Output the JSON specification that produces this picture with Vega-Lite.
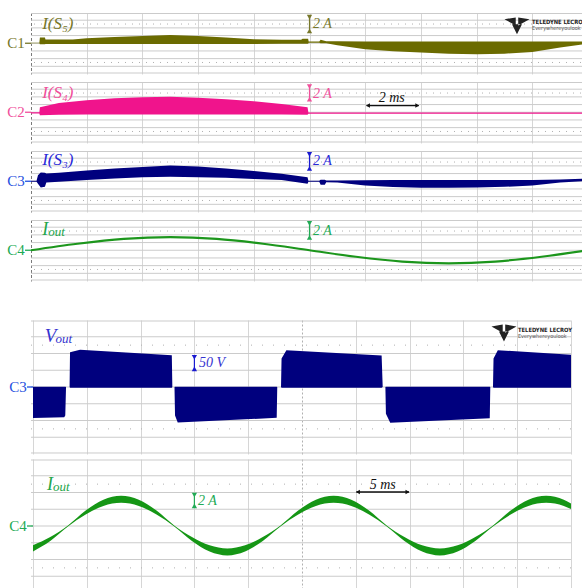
{
  "$schema": "https://vega.github.io/schema/vega-lite/v6.json",
  "background": "white",
  "padding": {"left": 0, "top": 12.5, "right": 0, "bottom": 0},
  "config": {
    "view": {"stroke": null},
    "axis": {"domain": false, "ticks": false, "labels": false, "title": null, "grid": true, "gridColor": "#d6d6d6", "gridWidth": 1},
    "axisY": {"grid": false}
  },
  "datasets": {
    "g8": [{"g": -7.74}, {"g": -6}, {"g": -4}, {"g": -2}, {"g": 0}, {"g": 2}, {"g": 4}, {"g": 6}, {"g": 7.74}],
    "g8b": [{"g": -7.88}, {"g": -6}, {"g": -4}, {"g": -2}, {"g": 0}, {"g": 2}, {"g": 4}, {"g": 6}, {"g": 7.88}],
    "g8d": [{"g": -5}, {"g": 5}],
    "g200": [{"g": -197}, {"g": -150}, {"g": -100}, {"g": -50}, {"g": 0}, {"g": 50}, {"g": 100}, {"g": 150}, {"g": 197}],
    "g200d": [{"g": -125}, {"g": 125}],
    "s5": [
      {"t": 0, "lo": 0, "hi": 0.15}, {"t": 0.3, "lo": 0, "hi": 0.15}, {"t": 0.32, "lo": -0.28, "hi": 1.5}, {"t": 0.5, "lo": -0.28, "hi": 1.5},
      {"t": 0.52, "lo": -0.22, "hi": 0.95}, {"t": 1.5, "lo": -0.22, "hi": 1.0}, {"t": 2.0, "lo": -0.22, "hi": 1.3}, {"t": 3.0, "lo": -0.22, "hi": 1.65},
      {"t": 4.0, "lo": -0.22, "hi": 1.9}, {"t": 5.0, "lo": -0.22, "hi": 2.15}, {"t": 6.0, "lo": -0.22, "hi": 1.9}, {"t": 7.0, "lo": -0.22, "hi": 1.5},
      {"t": 8.0, "lo": -0.22, "hi": 1.05}, {"t": 9.0, "lo": -0.16, "hi": 0.88}, {"t": 9.7, "lo": -0.1, "hi": 0.93}, {"t": 9.75, "lo": -0.1, "hi": 1.2},
      {"t": 9.95, "lo": -0.1, "hi": 1.2}, {"t": 9.97, "lo": 0.15, "hi": 0.45}, {"t": 10.35, "lo": 0.15, "hi": 0.45}, {"t": 10.4, "lo": 0, "hi": 0.88},
      {"t": 10.6, "lo": 0, "hi": 0.55}, {"t": 11.0, "lo": -0.55, "hi": 0.5}, {"t": 12.0, "lo": -1.55, "hi": 0.45}, {"t": 13.0, "lo": -2.1, "hi": 0.45},
      {"t": 14.0, "lo": -2.4, "hi": 0.45}, {"t": 15.0, "lo": -2.75, "hi": 0.45}, {"t": 16.0, "lo": -2.85, "hi": 0.45}, {"t": 17.0, "lo": -2.7, "hi": 0.45},
      {"t": 18.0, "lo": -2.25, "hi": 0.45}, {"t": 19.0, "lo": -1.1, "hi": 0.45}, {"t": 19.8, "lo": -0.28, "hi": 0.45}, {"t": 20, "lo": 0, "hi": 0.45}
    ],
    "s4": [
      {"t": 0, "lo": -0.33, "hi": 0}, {"t": 0.3, "lo": -0.33, "hi": 0}, {"t": 0.32, "lo": -0.77, "hi": 1.3}, {"t": 1.0, "lo": -0.66, "hi": 2.4},
      {"t": 2.0, "lo": -0.6, "hi": 3.15}, {"t": 3.0, "lo": -0.6, "hi": 3.65}, {"t": 4.0, "lo": -0.6, "hi": 3.9}, {"t": 5.0, "lo": -0.6, "hi": 4.05},
      {"t": 6.0, "lo": -0.6, "hi": 3.8}, {"t": 7.0, "lo": -0.6, "hi": 3.35}, {"t": 8.0, "lo": -0.6, "hi": 2.85}, {"t": 9.0, "lo": -0.6, "hi": 2.15},
      {"t": 9.93, "lo": -0.66, "hi": 1.3}, {"t": 9.96, "lo": -0.38, "hi": -0.05}, {"t": 20, "lo": -0.38, "hi": -0.05}
    ],
    "s3": [
      {"t": 0, "lo": -0.15, "hi": 0.15}, {"t": 0.2, "lo": -0.15, "hi": 0.15}, {"t": 0.25, "lo": -0.66, "hi": 1.55}, {"t": 0.35, "lo": -1.6, "hi": 2.3},
      {"t": 0.5, "lo": -1.45, "hi": 2.2}, {"t": 0.55, "lo": -0.33, "hi": 2.0}, {"t": 1.0, "lo": -0.1, "hi": 2.2}, {"t": 2.0, "lo": 0.33, "hi": 2.8},
      {"t": 3.0, "lo": 0.7, "hi": 3.3}, {"t": 4.0, "lo": 1.05, "hi": 3.7}, {"t": 5.0, "lo": 1.2, "hi": 4.1}, {"t": 6.0, "lo": 1.05, "hi": 3.85},
      {"t": 7.0, "lo": 0.88, "hi": 3.3}, {"t": 8.0, "lo": 0.6, "hi": 2.65}, {"t": 9.0, "lo": 0.33, "hi": 1.95}, {"t": 9.93, "lo": -0.66, "hi": 1.05},
      {"t": 9.96, "lo": -0.1, "hi": 0.15}, {"t": 10.35, "lo": -0.1, "hi": 0.15}, {"t": 10.4, "lo": -0.93, "hi": 0.38}, {"t": 10.55, "lo": -0.93, "hi": 0.38},
      {"t": 10.6, "lo": -0.28, "hi": 0.22}, {"t": 11.0, "lo": -0.33, "hi": 0.22}, {"t": 12.0, "lo": -1.1, "hi": 0.28}, {"t": 13.0, "lo": -1.5, "hi": 0.33},
      {"t": 14.0, "lo": -1.7, "hi": 0.33}, {"t": 15.0, "lo": -1.7, "hi": 0.33}, {"t": 16.0, "lo": -1.6, "hi": 0.33}, {"t": 17.0, "lo": -1.45, "hi": 0.33},
      {"t": 18.0, "lo": -1.1, "hi": 0.33}, {"t": 19.0, "lo": -0.33, "hi": 0.45}, {"t": 19.8, "lo": 0, "hi": 0.66}, {"t": 20, "lo": 0, "hi": 0.66}
    ],
    "iout": [
      {"t": 0, "i": 0}, {"t": 1.667, "i": 1.69}, {"t": 3.333, "i": 2.94}, {"t": 5, "i": 3.39}, {"t": 6.667, "i": 2.94}, {"t": 8.333, "i": 1.69},
      {"t": 10, "i": 0}, {"t": 11.667, "i": -1.69}, {"t": 13.333, "i": -2.94}, {"t": 15, "i": -3.39}, {"t": 16.667, "i": -2.94}, {"t": 18.333, "i": -1.69}, {"t": 20, "i": 0}
    ],
    "vout": [
      {"t": 0, "lo": -92.5, "hi": 1}, {"t": 2.9, "lo": -90, "hi": 1}, {"t": 3.0, "lo": -85, "hi": 1}, {"t": 3.07, "lo": 0, "hi": 0},
      {"t": 3.4, "lo": 0, "hi": 0}, {"t": 3.44, "lo": -2, "hi": 104}, {"t": 4.37, "lo": -2, "hi": 111}, {"t": 12.9, "lo": -2, "hi": 95},
      {"t": 12.95, "lo": 0, "hi": 0}, {"t": 13.15, "lo": 0, "hi": 0}, {"t": 13.2, "lo": -85, "hi": 1}, {"t": 13.45, "lo": -106, "hi": 1},
      {"t": 22.65, "lo": -92, "hi": 1}, {"t": 22.7, "lo": 0, "hi": 0}, {"t": 23.05, "lo": 0, "hi": 0}, {"t": 23.1, "lo": -2, "hi": 85},
      {"t": 23.55, "lo": -2, "hi": 110}, {"t": 32.4, "lo": -2, "hi": 94}, {"t": 32.5, "lo": 0, "hi": 0}, {"t": 32.75, "lo": 0, "hi": 0},
      {"t": 32.8, "lo": -80, "hi": 1}, {"t": 33.2, "lo": -107, "hi": 1}, {"t": 42.45, "lo": -93, "hi": 1}, {"t": 42.5, "lo": 0, "hi": 0},
      {"t": 42.75, "lo": 0, "hi": 0}, {"t": 42.8, "lo": -2, "hi": 85}, {"t": 43.2, "lo": -2, "hi": 110}, {"t": 50, "lo": -2, "hi": 96}
    ],
    "iout2": [
      {"t": 0, "lo": -3.03, "hi": -2.29}, {"t": 1.604, "lo": -1.79, "hi": -1.31}, {"t": 3.25, "lo": -0.06, "hi": 0.06}, {"t": 4.896, "lo": 1.36, "hi": 1.84},
      {"t": 6.542, "lo": 2.4, "hi": 3.14}, {"t": 8.1875, "lo": 2.78, "hi": 3.62}, {"t": 9.833, "lo": 2.4, "hi": 3.14}, {"t": 11.479, "lo": 1.36, "hi": 1.84},
      {"t": 13.125, "lo": -0.06, "hi": 0.06}, {"t": 14.771, "lo": -1.79, "hi": -1.31}, {"t": 16.417, "lo": -3.05, "hi": -2.31}, {"t": 18.0625, "lo": -3.52, "hi": -2.68},
      {"t": 19.708, "lo": -3.05, "hi": -2.31}, {"t": 21.354, "lo": -1.79, "hi": -1.31}, {"t": 23.0, "lo": -0.06, "hi": 0.06}, {"t": 24.646, "lo": 1.36, "hi": 1.84},
      {"t": 26.292, "lo": 2.4, "hi": 3.14}, {"t": 27.9375, "lo": 2.78, "hi": 3.62}, {"t": 29.583, "lo": 2.4, "hi": 3.14}, {"t": 31.229, "lo": 1.36, "hi": 1.84},
      {"t": 32.875, "lo": -0.06, "hi": 0.06}, {"t": 34.521, "lo": -1.79, "hi": -1.31}, {"t": 36.167, "lo": -3.05, "hi": -2.31}, {"t": 37.8125, "lo": -3.52, "hi": -2.68},
      {"t": 39.458, "lo": -3.05, "hi": -2.31}, {"t": 41.104, "lo": -1.79, "hi": -1.31}, {"t": 42.75, "lo": -0.06, "hi": 0.06}, {"t": 44.396, "lo": 1.36, "hi": 1.84},
      {"t": 46.042, "lo": 2.4, "hi": 3.14}, {"t": 47.6875, "lo": 2.78, "hi": 3.62}, {"t": 49.333, "lo": 2.4, "hi": 3.14}, {"t": 50, "lo": 2.04, "hi": 2.7}
    ]
  },
  "spacing": 38.5,
  "vconcat": [
    {
      "spacing": 7,
      "vconcat": [
        {
          "width": 557, "height": 61.5,
          "layer": [
            {"data": {"name": "g8"}, "mark": {"type": "rule", "color": "#cbcbcb", "strokeWidth": 1}, "encoding": {"y": {"field": "g", "type": "quantitative", "axis": null}}},
            {"data": {"name": "g8d"}, "mark": {"type": "rule", "color": "#b0b0b0", "strokeWidth": 1, "strokeDash": [1, 6]}, "encoding": {"y": {"field": "g", "type": "quantitative", "axis": null}}},
            {"data": {"name": "s5"}, "mark": {"type": "area", "color": "#6b6b00"},
             "encoding": {
               "x": {"field": "t", "type": "quantitative", "scale": {"domain": [0, 20], "nice": false, "zero": false},
                     "axis": {"values": [0, 2, 4, 6, 8, 10, 12, 14, 16, 18, 20],
                              "gridColor": {"condition": {"test": "datum.value === 0", "value": "#7a7a7a"}, "value": "#d6d6d6"},
                              "gridDash": {"condition": {"test": "datum.value === 0", "value": [3, 2]}, "value": []}}},
               "y": {"field": "hi", "type": "quantitative", "scale": {"domain": [-8, 8], "nice": false, "zero": false}, "axis": null},
               "y2": {"field": "lo"}}},
            {"data": {"values": [{}]}, "mark": {"type": "rule", "color": "white", "strokeWidth": 1},
             "encoding": {"x": {"datum": -1.077}, "x2": {"datum": -1.0}, "y": {"datum": 0}}},
            {"data": {"values": [{}]}, "mark": {"type": "rule", "color": "#77772a", "strokeWidth": 1.3},
             "encoding": {"x": {"datum": -0.215}, "x2": {"datum": 0}, "y": {"datum": 0}}},
            {"data": {"values": [{}]}, "mark": {"type": "text", "text": "C1", "font": "Liberation Serif", "fontSize": 15, "color": "#77772a", "align": "right", "baseline": "middle"},
             "encoding": {"x": {"datum": -0.225}, "y": {"datum": 0}}},
            {"data": {"values": [{}]}, "mark": {"type": "text", "text": "I(S₅)", "font": "Liberation Serif", "fontStyle": "italic", "fontSize": 17, "color": "#77772a", "align": "left", "baseline": "alphabetic"},
             "encoding": {"x": {"datum": 0.4}, "y": {"datum": 3.65}}},
            {"data": {"values": [{}]}, "mark": {"type": "rule", "color": "#77772a", "strokeWidth": 1.2},
             "encoding": {"x": {"datum": 10}, "y": {"datum": 7.1}, "y2": {"datum": 2.9}}},
            {"data": {"values": [{}]}, "mark": {"type": "point", "shape": "triangle-down", "filled": true, "size": 28, "color": "#77772a", "opacity": 1},
             "encoding": {"x": {"datum": 10}, "y": {"datum": 6.8}}},
            {"data": {"values": [{}]}, "mark": {"type": "point", "shape": "triangle-up", "filled": true, "size": 28, "color": "#77772a", "opacity": 1},
             "encoding": {"x": {"datum": 10}, "y": {"datum": 3.2}}},
            {"data": {"values": [{}]}, "mark": {"type": "text", "text": "2 A", "font": "Liberation Serif", "fontStyle": "italic", "fontSize": 14, "color": "#77772a", "align": "left", "baseline": "middle"},
             "encoding": {"x": {"datum": 10.13}, "y": {"datum": 5.0}}},
            {"data": {"values": [{}]}, "mark": {"type": "point", "shape": "M-1,-0.45L-0.1,-0.6L-0.1,0.05Z M1,-0.45L0.1,-0.6L0.1,0.05Z M-0.4,-0.05L0.4,-0.05L0,0.75Z", "filled": true, "size": 625, "color": "#222222", "opacity": 1},
             "encoding": {"x": {"datum": 17.45}, "y": {"datum": 4.77}}},
            {"data": {"values": [{}]}, "mark": {"type": "text", "text": "TELEDYNE LECROY", "font": "DejaVu Sans Condensed", "fontWeight": "bold", "fontSize": 5.8, "color": "#222222", "align": "left", "baseline": "middle"},
             "encoding": {"x": {"datum": 17.99}, "y": {"datum": 5.55}}},
            {"data": {"values": [{}]}, "mark": {"type": "text", "text": "Everywhereyoulook", "font": "DejaVu Sans Condensed", "fontSize": 5.5, "color": "#555555", "align": "left", "baseline": "middle"},
             "encoding": {"x": {"datum": 17.99}, "y": {"datum": 3.85}}}
          ]
        },
        {
          "width": 557, "height": 61.5,
          "layer": [
            {"data": {"name": "g8"}, "mark": {"type": "rule", "color": "#cbcbcb", "strokeWidth": 1}, "encoding": {"y": {"field": "g", "type": "quantitative", "axis": null}}},
            {"data": {"name": "g8d"}, "mark": {"type": "rule", "color": "#b0b0b0", "strokeWidth": 1, "strokeDash": [1, 6]}, "encoding": {"y": {"field": "g", "type": "quantitative", "axis": null}}},
            {"data": {"name": "s4"}, "mark": {"type": "area", "color": "#f0148c"},
             "encoding": {
               "x": {"field": "t", "type": "quantitative", "scale": {"domain": [0, 20], "nice": false, "zero": false},
                     "axis": {"values": [0, 2, 4, 6, 8, 10, 12, 14, 16, 18, 20],
                              "gridColor": {"condition": {"test": "datum.value === 0", "value": "#7a7a7a"}, "value": "#d6d6d6"},
                              "gridDash": {"condition": {"test": "datum.value === 0", "value": [3, 2]}, "value": []}}},
               "y": {"field": "hi", "type": "quantitative", "scale": {"domain": [-8, 8], "nice": false, "zero": false}, "axis": null},
               "y2": {"field": "lo"}}},
            {"data": {"values": [{}]}, "mark": {"type": "rule", "color": "white", "strokeWidth": 1},
             "encoding": {"x": {"datum": -1.077}, "x2": {"datum": -1.0}, "y": {"datum": 0}}},
            {"data": {"values": [{}]}, "mark": {"type": "rule", "color": "#f0509b", "strokeWidth": 1.3},
             "encoding": {"x": {"datum": -0.215}, "x2": {"datum": 0}, "y": {"datum": 0}}},
            {"data": {"values": [{}]}, "mark": {"type": "text", "text": "C2", "font": "Liberation Serif", "fontSize": 15, "color": "#f0509b", "align": "right", "baseline": "middle"},
             "encoding": {"x": {"datum": -0.225}, "y": {"datum": 0}}},
            {"data": {"values": [{}]}, "mark": {"type": "text", "text": "I(S₄)", "font": "Liberation Serif", "fontStyle": "italic", "fontSize": 17, "color": "#f0509b", "align": "left", "baseline": "alphabetic"},
             "encoding": {"x": {"datum": 0.4}, "y": {"datum": 3.72}}},
            {"data": {"values": [{}]}, "mark": {"type": "rule", "color": "#f0509b", "strokeWidth": 1.2},
             "encoding": {"x": {"datum": 10}, "y": {"datum": 7.0}, "y2": {"datum": 3.1}}},
            {"data": {"values": [{}]}, "mark": {"type": "point", "shape": "triangle-down", "filled": true, "size": 28, "color": "#f0509b", "opacity": 1},
             "encoding": {"x": {"datum": 10}, "y": {"datum": 6.7}}},
            {"data": {"values": [{}]}, "mark": {"type": "point", "shape": "triangle-up", "filled": true, "size": 28, "color": "#f0509b", "opacity": 1},
             "encoding": {"x": {"datum": 10}, "y": {"datum": 3.4}}},
            {"data": {"values": [{}]}, "mark": {"type": "text", "text": "2 A", "font": "Liberation Serif", "fontStyle": "italic", "fontSize": 14, "color": "#f0509b", "align": "left", "baseline": "middle"},
             "encoding": {"x": {"datum": 10.13}, "y": {"datum": 4.77}}},
            {"data": {"values": [{}]}, "mark": {"type": "rule", "color": "#111111", "strokeWidth": 1.3},
             "encoding": {"x": {"datum": 12.05}, "x2": {"datum": 13.92}, "y": {"datum": 1.74}}},
            {"data": {"values": [{}]}, "mark": {"type": "point", "shape": "triangle-left", "filled": true, "size": 20, "color": "#111111", "opacity": 1},
             "encoding": {"x": {"datum": 12.1}, "y": {"datum": 1.74}}},
            {"data": {"values": [{}]}, "mark": {"type": "point", "shape": "triangle-right", "filled": true, "size": 20, "color": "#111111", "opacity": 1},
             "encoding": {"x": {"datum": 13.87}, "y": {"datum": 1.74}}},
            {"data": {"values": [{}]}, "mark": {"type": "text", "text": "2 ms", "font": "Liberation Serif", "fontStyle": "italic", "fontSize": 14, "color": "#111111", "align": "center", "baseline": "middle"},
             "encoding": {"x": {"datum": 12.95}, "y": {"datum": 3.72}}}
          ]
        },
        {
          "width": 557, "height": 61.5,
          "layer": [
            {"data": {"name": "g8"}, "mark": {"type": "rule", "color": "#cbcbcb", "strokeWidth": 1}, "encoding": {"y": {"field": "g", "type": "quantitative", "axis": null}}},
            {"data": {"name": "g8d"}, "mark": {"type": "rule", "color": "#b0b0b0", "strokeWidth": 1, "strokeDash": [1, 6]}, "encoding": {"y": {"field": "g", "type": "quantitative", "axis": null}}},
            {"data": {"name": "s3"}, "mark": {"type": "area", "color": "#00007e"},
             "encoding": {
               "x": {"field": "t", "type": "quantitative", "scale": {"domain": [0, 20], "nice": false, "zero": false},
                     "axis": {"values": [0, 2, 4, 6, 8, 10, 12, 14, 16, 18, 20],
                              "gridColor": {"condition": {"test": "datum.value === 0", "value": "#7a7a7a"}, "value": "#d6d6d6"},
                              "gridDash": {"condition": {"test": "datum.value === 0", "value": [3, 2]}, "value": []}}},
               "y": {"field": "hi", "type": "quantitative", "scale": {"domain": [-8, 8], "nice": false, "zero": false}, "axis": null},
               "y2": {"field": "lo"}}},
            {"data": {"values": [{}]}, "mark": {"type": "rule", "color": "white", "strokeWidth": 1},
             "encoding": {"x": {"datum": -1.077}, "x2": {"datum": -1.0}, "y": {"datum": 0}}},
            {"data": {"values": [{}]}, "mark": {"type": "rule", "color": "#1f50e0", "strokeWidth": 1.3},
             "encoding": {"x": {"datum": -0.215}, "x2": {"datum": 0}, "y": {"datum": 0}}},
            {"data": {"values": [{}]}, "mark": {"type": "text", "text": "C3", "font": "Liberation Serif", "fontSize": 15, "color": "#1f50e0", "align": "right", "baseline": "middle"},
             "encoding": {"x": {"datum": -0.225}, "y": {"datum": 0}}},
            {"data": {"values": [{}]}, "mark": {"type": "text", "text": "I(S₃)", "font": "Liberation Serif", "fontStyle": "italic", "fontSize": 17, "color": "#2a2ad8", "align": "left", "baseline": "alphabetic"},
             "encoding": {"x": {"datum": 0.4}, "y": {"datum": 4.35}}},
            {"data": {"values": [{}]}, "mark": {"type": "rule", "color": "#1a1ad0", "strokeWidth": 1.2},
             "encoding": {"x": {"datum": 10}, "y": {"datum": 7.3}, "y2": {"datum": 3.0}}},
            {"data": {"values": [{}]}, "mark": {"type": "point", "shape": "triangle-down", "filled": true, "size": 28, "color": "#1a1ad0", "opacity": 1},
             "encoding": {"x": {"datum": 10}, "y": {"datum": 7.0}}},
            {"data": {"values": [{}]}, "mark": {"type": "point", "shape": "triangle-up", "filled": true, "size": 28, "color": "#1a1ad0", "opacity": 1},
             "encoding": {"x": {"datum": 10}, "y": {"datum": 3.3}}},
            {"data": {"values": [{}]}, "mark": {"type": "text", "text": "2 A", "font": "Liberation Serif", "fontStyle": "italic", "fontSize": 14, "color": "#2a2ad8", "align": "left", "baseline": "middle"},
             "encoding": {"x": {"datum": 10.13}, "y": {"datum": 5.2}}}
          ]
        },
        {
          "width": 557, "height": 61.5,
          "layer": [
            {"data": {"name": "g8"}, "mark": {"type": "rule", "color": "#cbcbcb", "strokeWidth": 1}, "encoding": {"y": {"field": "g", "type": "quantitative", "axis": null}}},
            {"data": {"name": "g8d"}, "mark": {"type": "rule", "color": "#b0b0b0", "strokeWidth": 1, "strokeDash": [1, 6]}, "encoding": {"y": {"field": "g", "type": "quantitative", "axis": null}}},
            {"data": {"name": "iout"}, "mark": {"type": "line", "color": "#1c961c", "strokeWidth": 2.2, "interpolate": "monotone"},
             "encoding": {
               "x": {"field": "t", "type": "quantitative", "scale": {"domain": [0, 20], "nice": false, "zero": false},
                     "axis": {"values": [0, 2, 4, 6, 8, 10, 12, 14, 16, 18, 20],
                              "gridColor": {"condition": {"test": "datum.value === 0", "value": "#7a7a7a"}, "value": "#d6d6d6"},
                              "gridDash": {"condition": {"test": "datum.value === 0", "value": [3, 2]}, "value": []}}},
               "y": {"field": "i", "type": "quantitative", "scale": {"domain": [-8, 8], "nice": false, "zero": false}, "axis": null}}},
            {"data": {"values": [{}]}, "mark": {"type": "rule", "color": "white", "strokeWidth": 1},
             "encoding": {"x": {"datum": -1.077}, "x2": {"datum": -1.0}, "y": {"datum": 0}}},
            {"data": {"values": [{}]}, "mark": {"type": "rule", "color": "#22aa55", "strokeWidth": 1.3},
             "encoding": {"x": {"datum": -0.215}, "x2": {"datum": 0}, "y": {"datum": 0}}},
            {"data": {"values": [{}]}, "mark": {"type": "text", "text": "C4", "font": "Liberation Serif", "fontSize": 15, "color": "#22aa55", "align": "right", "baseline": "middle"},
             "encoding": {"x": {"datum": -0.225}, "y": {"datum": 0}}},
            {"data": {"values": [{}]}, "mark": {"type": "text", "text": "I", "font": "Liberation Serif", "fontStyle": "italic", "fontSize": 18, "color": "#22a64a", "align": "left", "baseline": "alphabetic"},
             "encoding": {"x": {"datum": 0.4}, "y": {"datum": 3.9}}},
            {"data": {"values": [{}]}, "mark": {"type": "text", "text": "out", "font": "Liberation Serif", "fontStyle": "italic", "fontSize": 13, "color": "#22a64a", "align": "left", "baseline": "alphabetic"},
             "encoding": {"x": {"datum": 0.62}, "y": {"datum": 3.65}}},
            {"data": {"values": [{}]}, "mark": {"type": "rule", "color": "#22aa55", "strokeWidth": 1.2},
             "encoding": {"x": {"datum": 10}, "y": {"datum": 7.3}, "y2": {"datum": 3.0}}},
            {"data": {"values": [{}]}, "mark": {"type": "point", "shape": "triangle-down", "filled": true, "size": 28, "color": "#22aa55", "opacity": 1},
             "encoding": {"x": {"datum": 10}, "y": {"datum": 7.0}}},
            {"data": {"values": [{}]}, "mark": {"type": "point", "shape": "triangle-up", "filled": true, "size": 28, "color": "#22aa55", "opacity": 1},
             "encoding": {"x": {"datum": 10}, "y": {"datum": 3.3}}},
            {"data": {"values": [{}]}, "mark": {"type": "text", "text": "2 A", "font": "Liberation Serif", "fontStyle": "italic", "fontSize": 14, "color": "#22aa55", "align": "left", "baseline": "middle"},
             "encoding": {"x": {"datum": 10.13}, "y": {"datum": 5.13}}}
          ]
        }
      ]
    },
    {
      "spacing": 5,
      "vconcat": [
        {
          "width": 540, "height": 134,
          "layer": [
            {"data": {"name": "g200"}, "mark": {"type": "rule", "color": "#cbcbcb", "strokeWidth": 1}, "encoding": {"y": {"field": "g", "type": "quantitative", "axis": null}}},
            {"data": {"name": "g200d"}, "mark": {"type": "rule", "color": "#b0b0b0", "strokeWidth": 1, "strokeDash": [1, 10]}, "encoding": {"y": {"field": "g", "type": "quantitative", "axis": null}}},
            {"data": {"name": "vout"}, "mark": {"type": "area", "color": "#00007e"},
             "encoding": {
               "x": {"field": "t", "type": "quantitative", "scale": {"domain": [-0.186, 50], "nice": false, "zero": false},
                     "axis": {"values": [0, 5, 10, 15, 20, 25, 30, 35, 40, 45, 50],
                              "gridColor": {"condition": {"test": "datum.value === 25", "value": "#b0b0b0"}, "value": "#d6d6d6"},
                              "gridDash": {"condition": {"test": "datum.value === 25", "value": [2, 2]}, "value": []}}},
               "y": {"field": "hi", "type": "quantitative", "scale": {"domain": [-200, 200], "nice": false, "zero": false}, "axis": null},
               "y2": {"field": "lo"}}},
            {"data": {"values": [{}]}, "mark": {"type": "rule", "color": "white", "strokeWidth": 1},
             "encoding": {"x": {"datum": -2.974}, "x2": {"datum": -2.9}, "y": {"datum": 0}}},
            {"data": {"values": [{}]}, "mark": {"type": "rule", "color": "#1f50e0", "strokeWidth": 1.3},
             "encoding": {"x": {"datum": -0.558}, "x2": {"datum": 0}, "y": {"datum": 0}}},
            {"data": {"values": [{}]}, "mark": {"type": "text", "text": "C3", "font": "Liberation Serif", "fontSize": 15, "color": "#1f50e0", "align": "right", "baseline": "middle"},
             "encoding": {"x": {"datum": -0.58}, "y": {"datum": 0}}},
            {"data": {"values": [{}]}, "mark": {"type": "text", "text": "V", "font": "Liberation Serif", "fontStyle": "italic", "fontSize": 19, "color": "#3434d0", "align": "left", "baseline": "alphabetic"},
             "encoding": {"x": {"datum": 1.1}, "y": {"datum": 134}}},
            {"data": {"values": [{}]}, "mark": {"type": "text", "text": "out", "font": "Liberation Serif", "fontStyle": "italic", "fontSize": 13, "color": "#3434d0", "align": "left", "baseline": "alphabetic"},
             "encoding": {"x": {"datum": 2.1}, "y": {"datum": 130}}},
            {"data": {"values": [{}]}, "mark": {"type": "rule", "color": "#1a1ad0", "strokeWidth": 1.2},
             "encoding": {"x": {"datum": 15}, "y": {"datum": 95}, "y2": {"datum": 48}}},
            {"data": {"values": [{}]}, "mark": {"type": "point", "shape": "triangle-down", "filled": true, "size": 28, "color": "#1a1ad0", "opacity": 1},
             "encoding": {"x": {"datum": 15}, "y": {"datum": 89}}},
            {"data": {"values": [{}]}, "mark": {"type": "point", "shape": "triangle-up", "filled": true, "size": 28, "color": "#1a1ad0", "opacity": 1},
             "encoding": {"x": {"datum": 15}, "y": {"datum": 54}}},
            {"data": {"values": [{}]}, "mark": {"type": "text", "text": "50 V", "font": "Liberation Serif", "fontStyle": "italic", "fontSize": 14, "color": "#3434d0", "align": "left", "baseline": "middle"},
             "encoding": {"x": {"datum": 15.43}, "y": {"datum": 72.5}}},
            {"data": {"values": [{}]}, "mark": {"type": "point", "shape": "M-1,-0.45L-0.1,-0.6L-0.1,0.05Z M1,-0.45L0.1,-0.6L0.1,0.05Z M-0.4,-0.05L0.4,-0.05L0,0.75Z", "filled": true, "size": 625, "color": "#222222", "opacity": 1},
             "encoding": {"x": {"datum": 43.77}, "y": {"datum": 164}}},
            {"data": {"values": [{}]}, "mark": {"type": "text", "text": "TELEDYNE LECROY", "font": "DejaVu Sans Condensed", "fontWeight": "bold", "fontSize": 5.8, "color": "#222222", "align": "left", "baseline": "middle"},
             "encoding": {"x": {"datum": 45.07}, "y": {"datum": 171.6}}},
            {"data": {"values": [{}]}, "mark": {"type": "text", "text": "Everywhereyoulook", "font": "DejaVu Sans Condensed", "fontSize": 5.5, "color": "#555555", "align": "left", "baseline": "middle"},
             "encoding": {"x": {"datum": 45.07}, "y": {"datum": 152.2}}}
          ]
        },
        {
          "width": 540, "height": 134,
          "layer": [
            {"data": {"name": "g8b"}, "mark": {"type": "rule", "color": "#cbcbcb", "strokeWidth": 1}, "encoding": {"y": {"field": "g", "type": "quantitative", "axis": null}}},
            {"data": {"name": "g8d"}, "mark": {"type": "rule", "color": "#b0b0b0", "strokeWidth": 1, "strokeDash": [1, 10]}, "encoding": {"y": {"field": "g", "type": "quantitative", "axis": null}}},
            {"data": {"name": "iout2"}, "mark": {"type": "area", "color": "#159615", "interpolate": "monotone"},
             "encoding": {
               "x": {"field": "t", "type": "quantitative", "scale": {"domain": [-0.186, 50], "nice": false, "zero": false},
                     "axis": {"values": [0, 5, 10, 15, 20, 25, 30, 35, 40, 45, 50],
                              "gridColor": {"condition": {"test": "datum.value === 25", "value": "#b0b0b0"}, "value": "#d6d6d6"},
                              "gridDash": {"condition": {"test": "datum.value === 25", "value": [2, 2]}, "value": []}}},
               "y": {"field": "hi", "type": "quantitative", "scale": {"domain": [-8, 8], "nice": false, "zero": false}, "axis": null},
               "y2": {"field": "lo"}}},
            {"data": {"values": [{}]}, "mark": {"type": "rule", "color": "white", "strokeWidth": 1},
             "encoding": {"x": {"datum": -2.974}, "x2": {"datum": -2.9}, "y": {"datum": 0}}},
            {"data": {"values": [{}]}, "mark": {"type": "rule", "color": "#22aa55", "strokeWidth": 1.3},
             "encoding": {"x": {"datum": -0.558}, "x2": {"datum": 0}, "y": {"datum": 0}}},
            {"data": {"values": [{}]}, "mark": {"type": "text", "text": "C4", "font": "Liberation Serif", "fontSize": 15, "color": "#22aa55", "align": "right", "baseline": "middle"},
             "encoding": {"x": {"datum": -0.58}, "y": {"datum": 0}}},
            {"data": {"values": [{}]}, "mark": {"type": "text", "text": "I", "font": "Liberation Serif", "fontStyle": "italic", "fontSize": 18, "color": "#22a64a", "align": "left", "baseline": "alphabetic"},
             "encoding": {"x": {"datum": 1.3}, "y": {"datum": 4.26}}},
            {"data": {"values": [{}]}, "mark": {"type": "text", "text": "out", "font": "Liberation Serif", "fontStyle": "italic", "fontSize": 13, "color": "#22a64a", "align": "left", "baseline": "alphabetic"},
             "encoding": {"x": {"datum": 1.86}, "y": {"datum": 4.14}}},
            {"data": {"values": [{}]}, "mark": {"type": "rule", "color": "#22aa55", "strokeWidth": 1.2},
             "encoding": {"x": {"datum": 15}, "y": {"datum": 3.9}, "y2": {"datum": 2.2}}},
            {"data": {"values": [{}]}, "mark": {"type": "point", "shape": "triangle-down", "filled": true, "size": 28, "color": "#22aa55", "opacity": 1},
             "encoding": {"x": {"datum": 15}, "y": {"datum": 3.7}}},
            {"data": {"values": [{}]}, "mark": {"type": "point", "shape": "triangle-up", "filled": true, "size": 28, "color": "#22aa55", "opacity": 1},
             "encoding": {"x": {"datum": 15}, "y": {"datum": 2.4}}},
            {"data": {"values": [{}]}, "mark": {"type": "text", "text": "2 A", "font": "Liberation Serif", "fontStyle": "italic", "fontSize": 14, "color": "#22aa55", "align": "left", "baseline": "middle"},
             "encoding": {"x": {"datum": 15.33}, "y": {"datum": 2.99}}},
            {"data": {"values": [{}]}, "mark": {"type": "rule", "color": "#111111", "strokeWidth": 1.3},
             "encoding": {"x": {"datum": 30.05}, "x2": {"datum": 34.95}, "y": {"datum": 4.06}}},
            {"data": {"values": [{}]}, "mark": {"type": "point", "shape": "triangle-left", "filled": true, "size": 20, "color": "#111111", "opacity": 1},
             "encoding": {"x": {"datum": 30.2}, "y": {"datum": 4.06}}},
            {"data": {"values": [{}]}, "mark": {"type": "point", "shape": "triangle-right", "filled": true, "size": 20, "color": "#111111", "opacity": 1},
             "encoding": {"x": {"datum": 34.8}, "y": {"datum": 4.06}}},
            {"data": {"values": [{}]}, "mark": {"type": "text", "text": "5 ms", "font": "Liberation Serif", "fontStyle": "italic", "fontSize": 14, "color": "#111111", "align": "center", "baseline": "middle"},
             "encoding": {"x": {"datum": 32.5}, "y": {"datum": 4.93}}}
          ]
        }
      ]
    }
  ]
}
